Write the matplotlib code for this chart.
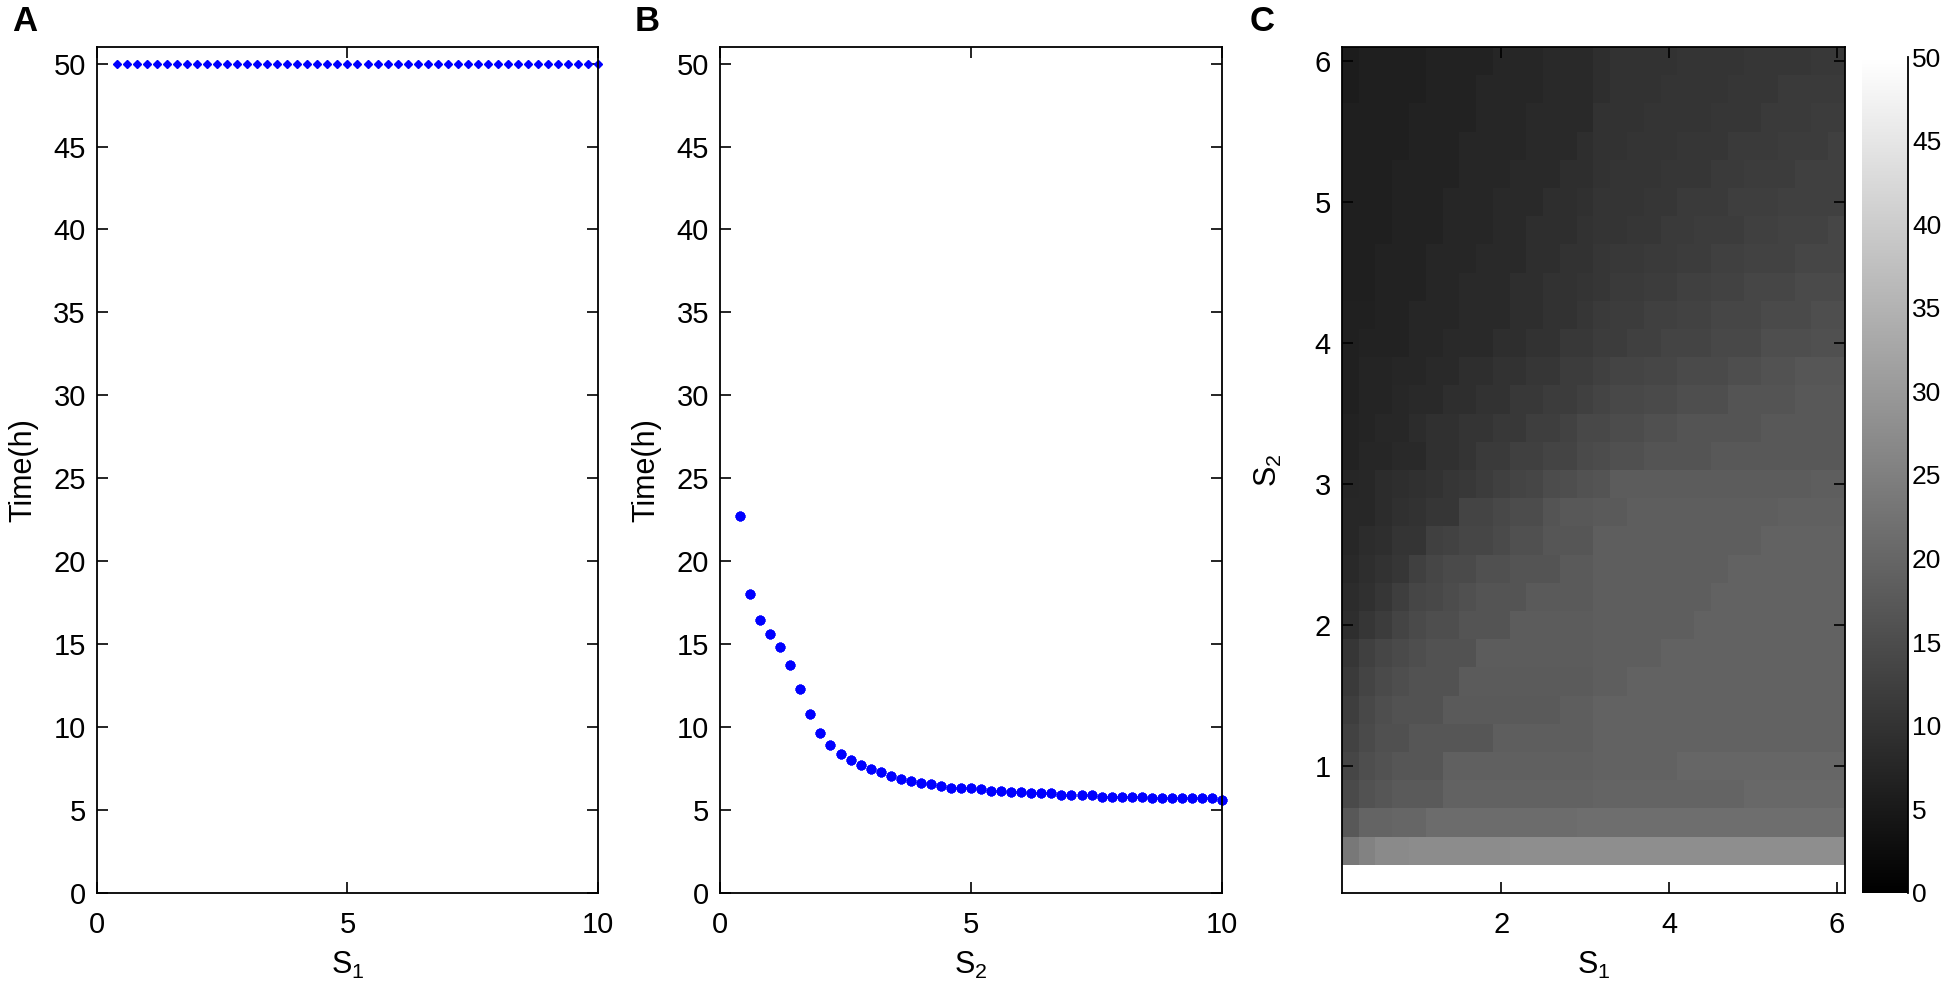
import numpy as np
import matplotlib
matplotlib.use('Agg')
import matplotlib.pyplot as plt

plt.rcParams['font.family'] = ['Liberation Sans', 'DejaVu Sans']
plt.rcParams['mathtext.fontset'] = 'custom'
plt.rcParams['mathtext.rm'] = 'Liberation Sans'
plt.rcParams['mathtext.it'] = 'Liberation Sans'

# sampled signal strengths for panels A and B
s_values = np.linspace(0.4, 10.0, 49)
time_a = [50.0] * 49
time_b = [22.7, 18.0, 16.45, 15.6, 14.8, 13.75, 12.3, 10.8, 9.65, 8.9,
          8.4, 8.0, 7.7, 7.5, 7.3, 7.05, 6.85, 6.75, 6.65, 6.55,
          6.45, 6.35, 6.35, 6.3, 6.25, 6.15, 6.15, 6.1, 6.1, 6.0,
          6.0, 6.0, 5.9, 5.9, 5.9, 5.9, 5.8, 5.8, 5.8, 5.8,
          5.8, 5.7, 5.7, 5.7, 5.7, 5.7, 5.7, 5.7, 5.6]

# panel C grid (cell centres), S2 listed top row first
s1_grid = np.linspace(0.2, 6.0, 30)
s2_grid = np.linspace(6.0, 0.2, 30)

# time (h) per row, run-length coded as (value, number of cells)
rows_c = [
    [(5.5, 1), (6.1, 4), (6.7, 4), (7.5, 3), (8.2, 3), (9.0, 1), (9.8, 4), (10.2, 4), (10.6, 4), (11.0, 2)],
    [(5.5, 1), (6.1, 4), (6.7, 3), (7.5, 4), (8.2, 3), (9.0, 1), (9.8, 3), (10.2, 4), (10.6, 3), (11.4, 4)],
    [(6.1, 4), (6.7, 4), (7.5, 3), (8.2, 4), (9.8, 3), (10.2, 4), (10.6, 3), (11.4, 3), (11.8, 2)],
    [(6.1, 4), (6.7, 3), (7.5, 4), (8.2, 3), (9.0, 1), (9.8, 2), (10.2, 3), (10.6, 3), (11.4, 3), (11.8, 3), (12.5, 1)],
    [(6.1, 3), (6.7, 4), (7.5, 3), (8.2, 3), (9.0, 2), (9.8, 1), (10.2, 3), (10.6, 3), (11.4, 2), (11.8, 3), (12.5, 3)],
    [(6.1, 3), (6.7, 3), (7.5, 3), (8.2, 3), (9.0, 2), (9.4, 1), (10.2, 3), (10.6, 2), (11.4, 3), (12.2, 3), (12.5, 4)],
    [(6.1, 3), (6.7, 3), (7.5, 3), (8.2, 2), (9.0, 3), (9.8, 1), (10.2, 2), (10.6, 2), (11.4, 2), (11.8, 3), (12.5, 2), (12.9, 3), (13.7, 1)],
    [(6.1, 2), (6.7, 3), (7.5, 3), (8.2, 3), (9.0, 2), (9.8, 2), (10.6, 1), (11.0, 2), (11.4, 2), (11.8, 2), (12.5, 2), (12.9, 3), (13.7, 3)],
    [(6.1, 2), (6.7, 3), (7.5, 2), (8.2, 3), (9.0, 2), (9.8, 2), (10.2, 1), (10.6, 1), (11.4, 2), (11.8, 2), (12.5, 2), (12.9, 2), (13.7, 3), (14.5, 3)],
    [(6.3, 2), (6.7, 2), (7.5, 3), (8.2, 3), (9.0, 2), (9.8, 2), (10.6, 1), (11.4, 1), (11.8, 2), (12.5, 2), (12.9, 2), (13.7, 3), (14.5, 3), (15.3, 2)],
    [(6.3, 1), (6.7, 3), (7.5, 2), (8.2, 3), (9.0, 2), (9.8, 2), (11.0, 2), (11.8, 2), (12.5, 2), (13.3, 3), (14.1, 3), (15.3, 3), (15.7, 2)],
    [(6.3, 1), (7.1, 2), (7.5, 2), (8.2, 2), (9.0, 2), (9.8, 2), (10.6, 2), (11.8, 2), (12.5, 1), (13.3, 2), (13.7, 2), (14.5, 3), (15.3, 2), (16.1, 2), (16.9, 3)],
    [(6.3, 1), (7.1, 2), (7.8, 1), (8.2, 2), (9.0, 2), (9.8, 2), (11.0, 2), (11.8, 2), (12.5, 1), (13.3, 1), (14.1, 2), (14.5, 2), (15.3, 3), (16.5, 4), (17.3, 3)],
    [(6.7, 1), (7.1, 1), (7.8, 2), (8.6, 1), (9.4, 2), (10.2, 2), (11.0, 2), (12.2, 2), (12.9, 1), (14.1, 2), (14.9, 2), (15.7, 2), (16.5, 5), (17.3, 5)],
    [(6.7, 1), (7.5, 2), (8.2, 2), (9.4, 2), (10.2, 1), (11.4, 2), (12.5, 2), (13.3, 2), (14.5, 1), (14.9, 1), (15.7, 2), (16.5, 4), (17.3, 8)],
    [(7.5, 1), (7.8, 1), (8.6, 1), (9.0, 1), (9.4, 1), (9.8, 1), (10.6, 1), (11.0, 1), (11.8, 1), (12.5, 1), (13.3, 1), (13.7, 1), (14.9, 1), (15.3, 1), (16.1, 1), (16.5, 1), (18.0, 12), (18.4, 2)],
    [(7.8, 2), (8.6, 1), (9.4, 1), (9.8, 1), (10.6, 2), (13.3, 2), (14.1, 1), (14.9, 2), (16.5, 1), (17.3, 2), (17.6, 2), (18.4, 9), (18.8, 4)],
    [(7.8, 1), (8.6, 1), (9.0, 1), (10.2, 2), (12.5, 1), (12.9, 1), (13.7, 2), (14.5, 1), (15.7, 2), (16.9, 3), (18.4, 10), (19.2, 5)],
    [(8.2, 1), (9.0, 1), (9.8, 1), (10.6, 1), (12.5, 1), (13.7, 1), (14.5, 2), (15.7, 2), (16.5, 3), (17.6, 2), (18.4, 8), (19.2, 7)],
    [(8.6, 1), (9.4, 1), (10.6, 1), (12.2, 1), (13.7, 1), (14.1, 1), (14.9, 1), (15.7, 1), (16.5, 3), (17.6, 4), (18.4, 7), (19.2, 8)],
    [(9.0, 1), (10.6, 1), (11.8, 1), (13.3, 1), (14.5, 1), (15.3, 2), (16.5, 3), (18.0, 5), (18.4, 6), (19.2, 9)],
    [(10.6, 1), (12.5, 1), (13.7, 1), (14.5, 1), (15.3, 1), (16.1, 3), (18.0, 7), (18.4, 4), (19.2, 11)],
    [(11.4, 1), (13.3, 1), (14.5, 1), (15.3, 1), (16.1, 3), (17.8, 8), (18.4, 2), (19.2, 13)],
    [(12.2, 1), (14.1, 1), (15.3, 1), (16.1, 3), (17.6, 7), (18.4, 2), (19.2, 15)],
    [(12.9, 1), (14.5, 1), (15.7, 2), (16.9, 5), (18.4, 6), (19.2, 15)],
    [(13.7, 1), (15.3, 1), (16.1, 1), (16.9, 3), (18.8, 9), (19.2, 5), (20.0, 10)],
    [(14.5, 1), (16.1, 1), (16.9, 1), (17.6, 3), (19.2, 9), (19.6, 9), (20.4, 6)],
    [(17.3, 1), (19.6, 2), (20.0, 2), (21.2, 9), (21.6, 16)],
    [(23.5, 1), (25.5, 1), (27.1, 2), (27.5, 6), (27.8, 20)],
    [(50.0, 30)],
]

time_c = np.array([np.repeat([v for v, n in r], [n for v, n in r]) for r in rows_c])

tick_fs = 21
label_fs = 22
blue = '#0000ff'


def style_axes(ax):
    ax.tick_params(direction='in', length=8, width=1.2, top=True, right=True,
                   labelsize=tick_fs)
    ax.tick_params(axis='x', pad=13)
    ax.tick_params(axis='y', pad=8)
    for sp in ax.spines.values():
        sp.set_linewidth(1.3)


fig = plt.figure(figsize=(19.46, 10.01), dpi=100)
bottom = 0.108
height = 0.845

# A
ax1 = fig.add_axes([0.0498, bottom, 0.2575, height])
ax1.plot(s_values, time_a, linestyle='none', marker='D', markersize=4.5,
         color=blue, clip_on=False)
ax1.set_xlim(0, 10)
ax1.set_ylim(0, 51)
ax1.set_xticks([0, 5, 10])
ax1.set_yticks(np.arange(0, 51, 5))
ax1.set_xlabel('S$_1$', fontsize=label_fs, labelpad=8)
ax1.set_ylabel('Time(h)', fontsize=label_fs, labelpad=11)
style_axes(ax1)

# B
ax2 = fig.add_axes([0.370, bottom, 0.258, height])
ax2.plot(s_values, time_b, linestyle='none', marker=(8, 2, 0), markersize=7,
         markeredgewidth=2.3, color=blue, clip_on=False)
ax2.set_xlim(0, 10)
ax2.set_ylim(0, 51)
ax2.set_xticks([0, 5, 10])
ax2.set_yticks(np.arange(0, 51, 5))
ax2.set_xlabel('S$_2$', fontsize=label_fs, labelpad=8)
ax2.set_ylabel('Time(h)', fontsize=label_fs, labelpad=11)
style_axes(ax2)

# C
ax3 = fig.add_axes([0.6896, bottom, 0.2585, height])
mesh = ax3.pcolormesh(s1_grid, s2_grid, time_c, shading='nearest',
                      cmap='gray', vmin=0, vmax=50)
ax3.set_xlim(0.1, 6.1)
ax3.set_ylim(0.1, 6.1)
ax3.set_xticks([2, 4, 6])
ax3.set_yticks([1, 2, 3, 4, 5, 6])
ax3.set_xlabel('S$_1$', fontsize=label_fs, labelpad=8)
ax3.set_ylabel('S$_2$', fontsize=label_fs, labelpad=22)
style_axes(ax3)

cax = fig.add_axes([0.9568, bottom, 0.0236, 0.835])
cb = fig.colorbar(mesh, cax=cax, ticks=np.arange(0, 51, 5))
cb.outline.set_visible(False)
cax.plot([1, 1], [0, 1], transform=cax.transAxes, color='k', lw=1.3,
         clip_on=False)
cax.tick_params(length=0, labelsize=19, pad=3)

fig.text(0.006, 0.979, 'A', fontsize=25, fontweight='bold', va='center')
fig.text(0.326, 0.979, 'B', fontsize=25, fontweight='bold', va='center')
fig.text(0.642, 0.979, 'C', fontsize=25, fontweight='bold', va='center')

fig.savefig('out.png', dpi=100)
